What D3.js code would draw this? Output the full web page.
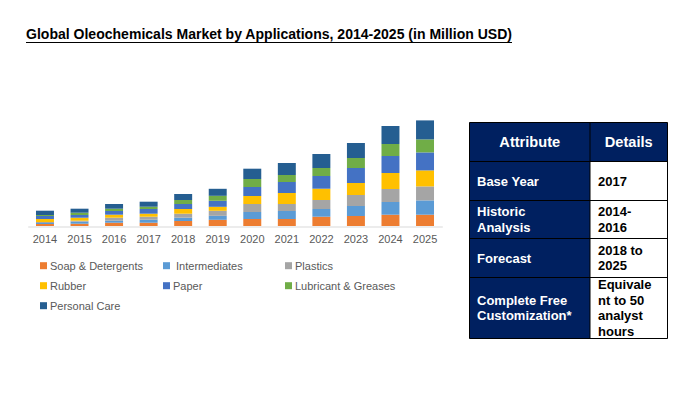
<!DOCTYPE html>
<html>
<head>
<meta charset="utf-8">
<script src="https://cdn.jsdelivr.net/npm/d3@7"></script>
<style>
  body { margin: 0; background: #fff; }
  svg { display: block; font-family: "Liberation Sans", Arial, sans-serif; }
</style>
</head>
<body>
<svg id="chart" width="691" height="398"></svg>
<script>
// values in Million USD (no value axis in the source, read relative to bar heights)
var years = ["2014", "2015", "2016", "2017", "2018", "2019", "2020", "2021", "2022", "2023", "2024", "2025"];
var seriesNames = ["Soap & Detergents", " Intermediates", "Plastics", "Rubber", "Paper", "Lubricant & Greases", "Personal Care"];
var soapDetergents = [200, 230, 330, 330, 500, 620, 700, 700, 930, 1000, 1130, 1130];
var intermediates  = [100, 200, 200, 300, 330, 400, 700, 800, 770, 1000, 1270, 1430];
var plastics       = [100, 100, 300, 300, 400, 500, 800, 700, 900, 1100, 1300, 1400];
var rubber         = [300, 300, 300, 300, 470, 400, 800, 1100, 1130, 1200, 1600, 1600];
var paper          = [300, 270, 370, 470, 500, 600, 900, 1100, 1270, 1500, 1700, 1800];
var lubricants     = [100, 230, 230, 230, 400, 500, 800, 700, 800, 1000, 1200, 1300];
var personalCare   = [430, 400, 470, 500, 600, 700, 1030, 1200, 1400, 1500, 1800, 1900];
var seriesColors = ["#ED7D31", "#5B9BD5", "#A5A5A5", "#FFC000", "#4472C4", "#70AD47", "#255E91"];

var tableHeader = ["Attribute", "Details"];
var tableAttributes = [["Base Year"], ["Historic", "Analysis"], ["Forecast"], ["Complete Free", "Customization*"]];
var tableDetails = [["2017"], ["2014-", "2016"], ["2018 to", "2025"], ["Equivale", "nt to 50", "analyst", "hours"]];

var svg = d3.select("#chart");

// title
svg.append("text")
    .attr("x", 26)
    .attr("y", 39)
    .attr("font-size", 14)
    .attr("font-weight", "bold")
    .attr("textLength", 486)
    .attr("lengthAdjust", "spacingAndGlyphs")
    .attr("fill", "#000")
    .text("Global Oleochemicals Market by Applications, 2014-2025 (in Million USD)");

svg.append("line")
    .attr("x1", 26).attr("x2", 512)
    .attr("y1", 42.5).attr("y2", 42.5)
    .attr("stroke", "#000")
    .attr("stroke-width", 1);

// stacked bars
var allSeries = [soapDetergents, intermediates, plastics, rubber, paper, lubricants, personalCare];
var rows = years.map(function (y, i) {
    var row = { year: y };
    seriesNames.forEach(function (s, j) { row[s] = allSeries[j][i]; });
    return row;
});

var x = d3.scaleBand()
    .domain(years)
    .range([27.7, 442.3])
    .paddingInner(0.48)
    .paddingOuter(0.24);

var y = d3.scaleLinear()
    .domain([0, 12000])
    .range([226, 106]);

var stack = d3.stack().keys(seriesNames)(rows);

var plot = svg.append("g");

plot.selectAll(".layer")
    .data(stack)
    .enter()
    .append("g")
    .attr("class", "layer")
    .attr("fill", function (d, i) { return seriesColors[i]; })
    .selectAll("rect")
    .data(function (d) { return d; })
    .enter()
    .append("rect")
    .attr("x", function (d) { return x(d.data.year); })
    .attr("width", x.bandwidth())
    .attr("y", function (d) { return y(d[1]); })
    .attr("height", function (d) { return y(d[0]) - y(d[1]); });

// category axis
var xAxis = svg.append("g")
    .attr("transform", "translate(0,226.5)")
    .call(d3.axisBottom(x).tickSize(0).tickPadding(9));

xAxis.select(".domain").attr("stroke", "#D9D9D9").attr("stroke-width", 1);
xAxis.selectAll("text")
    .attr("font-family", "Liberation Sans, Arial, sans-serif")
    .attr("font-size", 11)
    .attr("fill", "#595959");

// legend
var legendCols = [40, 163, 285];
var legend = svg.append("g")
    .selectAll(".legend-item")
    .data(seriesNames)
    .enter()
    .append("g")
    .attr("class", "legend-item")
    .attr("transform", function (d, i) {
        return "translate(" + legendCols[i % 3] + "," + (265.7 + Math.floor(i / 3) * 20) + ")";
    });

legend.append("rect")
    .attr("x", 0)
    .attr("y", -3.5)
    .attr("width", 7)
    .attr("height", 7)
    .attr("fill", function (d, i) { return seriesColors[i]; });

legend.append("text")
    .attr("x", 10)
    .attr("y", 4)
    .attr("font-size", 11)
    .attr("fill", "#595959")
    .style("white-space", "pre")
    .attr("xml:space", "preserve")
    .text(function (d) { return d; });

// attribute table
var navy = "#002060";
var colX = [469.5, 590, 667.5];
var rowY = [122.5, 161.5, 200.5, 238.5, 277.5, 338.5];
var table = svg.append("g");

table.append("rect")
    .attr("x", colX[0]).attr("y", rowY[0])
    .attr("width", colX[2] - colX[0]).attr("height", rowY[5] - rowY[0])
    .attr("fill", navy);

table.selectAll(".detail-cell")
    .data(tableDetails)
    .enter()
    .append("rect")
    .attr("class", "detail-cell")
    .attr("x", colX[1])
    .attr("y", function (d, i) { return rowY[i + 1]; })
    .attr("width", colX[2] - colX[1])
    .attr("height", function (d, i) { return rowY[i + 2] - rowY[i + 1]; })
    .attr("fill", "#fff");

// grid lines
rowY.forEach(function (ry) {
    table.append("line")
        .attr("x1", colX[0]).attr("x2", colX[2])
        .attr("y1", ry).attr("y2", ry)
        .attr("stroke", "#000");
});
colX.forEach(function (cx) {
    table.append("line")
        .attr("x1", cx).attr("x2", cx)
        .attr("y1", rowY[0]).attr("y2", rowY[5])
        .attr("stroke", "#000");
});

table.selectAll(".head")
    .data(tableHeader)
    .enter()
    .append("text")
    .attr("class", "head")
    .attr("x", function (d, i) { return (colX[i] + colX[i + 1]) / 2; })
    .attr("y", 146.5)
    .attr("text-anchor", "middle")
    .attr("font-size", 14.6)
    .attr("font-weight", "bold")
    .attr("fill", "#fff")
    .text(function (d) { return d; });

function cellText(lines, i, xPos, color) {
    var mid = (rowY[i + 1] + rowY[i + 2]) / 2;
    var lineH = 15.5;
    var first = mid - (lines.length - 1) * lineH / 2 + 4.7;
    var t = table.append("text")
        .attr("font-size", 13)
        .attr("font-weight", "bold")
        .attr("fill", color);
    lines.forEach(function (l, k) {
        t.append("tspan")
            .attr("x", xPos)
            .attr("y", first + k * lineH)
            .text(l);
    });
}

tableAttributes.forEach(function (lines, i) { cellText(lines, i, 477, "#fff"); });
tableDetails.forEach(function (lines, i) { cellText(lines, i, 598, "#000"); });
</script>
</body>
</html>
